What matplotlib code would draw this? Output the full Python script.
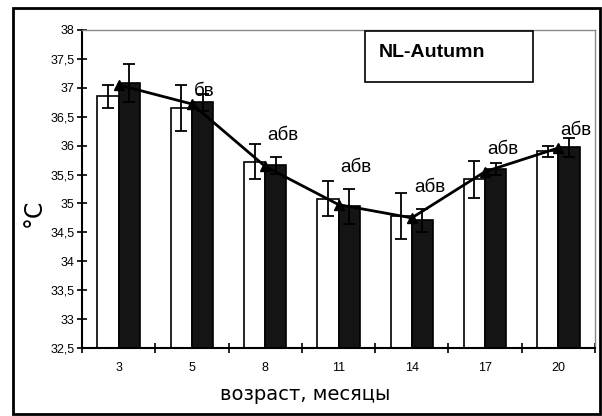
import matplotlib.pyplot as plt
from matplotlib.patches import Rectangle
from matplotlib.ticker import FixedLocator, FuncFormatter
import numpy as np

# age groups, months
ages = ['3', '5', '8', '11', '14', '17', '20']

# white bars
white = [36.85, 36.65, 35.72, 35.08, 34.78, 35.42, 35.90]
white_err = [0.20, 0.40, 0.30, 0.30, 0.40, 0.32, 0.10]

# black bars
black = [37.08, 36.75, 35.66, 34.95, 34.71, 35.60, 35.97]
black_err = [0.33, 0.15, 0.15, 0.30, 0.20, 0.10, 0.16]

# triangle line
trend = [37.05, 36.72, 35.64, 34.98, 34.75, 35.55, 35.96]

# significance marks and their heights
marks = ['', 'бв', 'абв', 'абв', 'абв', 'абв', 'абв']
mark_y = [0, 36.93, 36.17, 35.63, 35.28, 35.94, 36.27]

fig = plt.figure(figsize=(6.02, 4.16), dpi=100)
ax = fig.add_axes([0.1362, 0.1635, 0.8522, 0.7644])

x = np.arange(len(ages))
w = 0.29
ax.bar(x - w / 2, white, width=w, color='white', edgecolor='black', linewidth=1.2, zorder=2)
ax.bar(x + w / 2, black, width=w, color='#141414', edgecolor='black', linewidth=1.2, zorder=2)
ax.errorbar(x - w / 2, white, yerr=white_err, fmt='none', ecolor='black',
            elinewidth=1.3, capsize=4, capthick=1.3, zorder=3)
ax.errorbar(x + w / 2, black, yerr=black_err, fmt='none', ecolor='black',
            elinewidth=1.3, capsize=4, capthick=1.3, zorder=3)
ax.plot(x, trend, color='black', linewidth=2, marker='^', markersize=7, zorder=4)

for i, (m, yy) in enumerate(zip(marks, mark_y)):
    if m:
        ax.text(i + 0.03, yy, m, fontsize=13.5, ha='left', va='center',
                family=['Liberation Sans', 'DejaVu Sans'], zorder=5)

ax.set_xlim(-0.5, len(ages) - 0.5)
ax.set_ylim(32.5, 38)
ax.set_yticks(np.arange(32.5, 38.01, 0.5))
ax.yaxis.set_major_formatter(FuncFormatter(
    lambda v, p: ('%g' % v).replace('.', ',')))
ax.set_xticks(x)
ax.set_xticklabels(ages)
ax.xaxis.set_minor_locator(FixedLocator(np.arange(-0.5, len(ages), 1.0)))

tick_font = ['Liberation Sans Narrow', 'Liberation Sans', 'DejaVu Sans']
for lab in ax.get_xticklabels() + ax.get_yticklabels():
    lab.set_family(tick_font)
    lab.set_fontsize(9)

ax.tick_params(axis='y', direction='inout', length=7, width=1.2, pad=2)
ax.tick_params(axis='x', which='major', length=0, pad=10)
ax.tick_params(axis='x', which='minor', direction='inout', length=7, width=1.2)

for s in ['left', 'bottom']:
    ax.spines[s].set_linewidth(1.5)
for s in ['top', 'right']:
    ax.spines[s].set_color('#8a8a8a')
    ax.spines[s].set_linewidth(1)

# legend-like title box
ax.add_patch(Rectangle((0.552, 0.836), 0.327, 0.161, transform=ax.transAxes,
                       facecolor='white', edgecolor='black', linewidth=1.2, zorder=6))
ax.text(0.578, 0.928, 'NL-Autumn', transform=ax.transAxes, fontsize=14,
        fontweight='bold', ha='left', va='center',
        family=['Liberation Sans', 'DejaVu Sans'], zorder=7)

fig.text(305 / 602, 1 - 395 / 416, 'возраст, месяцы', ha='center', va='center',
         fontsize=14, family=['DejaVu Sans'])
fig.text(34 / 602, 1 - 213 / 416, '°C', ha='center', va='center', rotation=90,
         fontsize=17, family=['DejaVu Sans'])

# outer frame
fig.add_artist(Rectangle((13 / 602, 2 / 416), 587 / 602, 406 / 416,
                         transform=fig.transFigure, fill=False,
                         edgecolor='black', linewidth=2))

fig.savefig('out.png', dpi=100)
